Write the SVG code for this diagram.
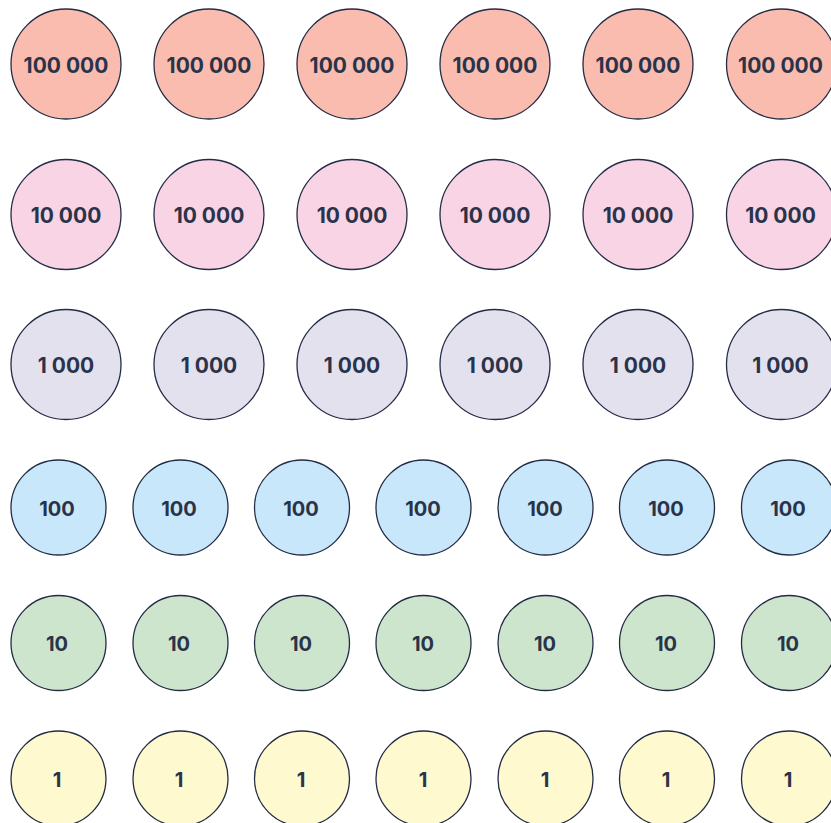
<svg xmlns="http://www.w3.org/2000/svg" width="831" height="823" viewBox="0 0 831 823">
<style>
circle{stroke:#232c45;stroke-width:1.3}
text{font-family:Inter,"Liberation Sans",sans-serif;font-weight:700;fill:#2a3349;text-anchor:middle;dominant-baseline:central}
.b text{font-size:21px}
.s text{font-size:20px}
.r1 circle{fill:#f9bcae}
.r2 circle{fill:#f9d4e4}
.r3 circle{fill:#e4e1ef}
.r4 circle{fill:#c9e7fa}
.r5 circle{fill:#cde4cd}
.r6 circle{fill:#fef9ce}
</style>
<rect width="831" height="823" fill="#ffffff"/>
<g class="b r1">
<g id="n1_1"><circle cx="66" cy="64" r="55"/><text x="66" y="65">100 000</text></g>
<g id="n1_2"><circle cx="209" cy="64" r="55"/><text x="209" y="65">100 000</text></g>
<g id="n1_3"><circle cx="352" cy="64" r="55"/><text x="352" y="65">100 000</text></g>
<g id="n1_4"><circle cx="495" cy="64" r="55"/><text x="495" y="65">100 000</text></g>
<g id="n1_5"><circle cx="638" cy="64" r="55"/><text x="638" y="65">100 000</text></g>
<g id="n1_6"><circle cx="781.5" cy="64" r="55"/><text x="780.5" y="65">100 000</text></g>
</g>
<g class="b r2">
<g id="n2_1"><circle cx="66" cy="214.5" r="55"/><text x="66" y="215.5">10 000</text></g>
<g id="n2_2"><circle cx="209" cy="214.5" r="55"/><text x="209" y="215.5">10 000</text></g>
<g id="n2_3"><circle cx="352" cy="214.5" r="55"/><text x="352" y="215.5">10 000</text></g>
<g id="n2_4"><circle cx="495" cy="214.5" r="55"/><text x="495" y="215.5">10 000</text></g>
<g id="n2_5"><circle cx="638" cy="214.5" r="55"/><text x="638" y="215.5">10 000</text></g>
<g id="n2_6"><circle cx="781.5" cy="214.5" r="55"/><text x="780.5" y="215.5">10 000</text></g>
</g>
<g class="b r3">
<g id="n3_1"><circle cx="66" cy="364.5" r="55"/><text x="66" y="365.5">1 000</text></g>
<g id="n3_2"><circle cx="209" cy="364.5" r="55"/><text x="209" y="365.5">1 000</text></g>
<g id="n3_3"><circle cx="352" cy="364.5" r="55"/><text x="352" y="365.5">1 000</text></g>
<g id="n3_4"><circle cx="495" cy="364.5" r="55"/><text x="495" y="365.5">1 000</text></g>
<g id="n3_5"><circle cx="638" cy="364.5" r="55"/><text x="638" y="365.5">1 000</text></g>
<g id="n3_6"><circle cx="781.5" cy="364.5" r="55"/><text x="780.5" y="365.5">1 000</text></g>
</g>
<g class="s r4">
<g id="n4_1"><circle cx="58.5" cy="507.5" r="47.5"/><text x="57" y="508.5">100</text></g>
<g id="n4_2"><circle cx="180.5" cy="507.5" r="47.5"/><text x="179" y="508.5">100</text></g>
<g id="n4_3"><circle cx="302" cy="507.5" r="47.5"/><text x="301" y="508.5">100</text></g>
<g id="n4_4"><circle cx="423.5" cy="507.5" r="47.5"/><text x="423" y="508.5">100</text></g>
<g id="n4_5"><circle cx="545.5" cy="507.5" r="47.5"/><text x="545" y="508.5">100</text></g>
<g id="n4_6"><circle cx="667" cy="507.5" r="47.5"/><text x="666" y="508.5">100</text></g>
<g id="n4_7"><circle cx="789" cy="507.5" r="47.5"/><text x="788" y="508.5">100</text></g>
</g>
<g class="s r5">
<g id="n5_1"><circle cx="58.5" cy="643" r="47.5"/><text x="57" y="644">10</text></g>
<g id="n5_2"><circle cx="180.5" cy="643" r="47.5"/><text x="179" y="644">10</text></g>
<g id="n5_3"><circle cx="302" cy="643" r="47.5"/><text x="301" y="644">10</text></g>
<g id="n5_4"><circle cx="423.5" cy="643" r="47.5"/><text x="423" y="644">10</text></g>
<g id="n5_5"><circle cx="545.5" cy="643" r="47.5"/><text x="545" y="644">10</text></g>
<g id="n5_6"><circle cx="667" cy="643" r="47.5"/><text x="666" y="644">10</text></g>
<g id="n5_7"><circle cx="789" cy="643" r="47.5"/><text x="788" y="644">10</text></g>
</g>
<g class="s r6">
<g id="n6_1"><circle cx="58.5" cy="778.5" r="47.5"/><text x="57" y="779.5">1</text></g>
<g id="n6_2"><circle cx="180.5" cy="778.5" r="47.5"/><text x="179" y="779.5">1</text></g>
<g id="n6_3"><circle cx="302" cy="778.5" r="47.5"/><text x="301" y="779.5">1</text></g>
<g id="n6_4"><circle cx="423.5" cy="778.5" r="47.5"/><text x="423" y="779.5">1</text></g>
<g id="n6_5"><circle cx="545.5" cy="778.5" r="47.5"/><text x="545" y="779.5">1</text></g>
<g id="n6_6"><circle cx="667" cy="778.5" r="47.5"/><text x="666" y="779.5">1</text></g>
<g id="n6_7"><circle cx="789" cy="778.5" r="47.5"/><text x="788" y="779.5">1</text></g>
</g>
<g id="connectors"/>
</svg>
